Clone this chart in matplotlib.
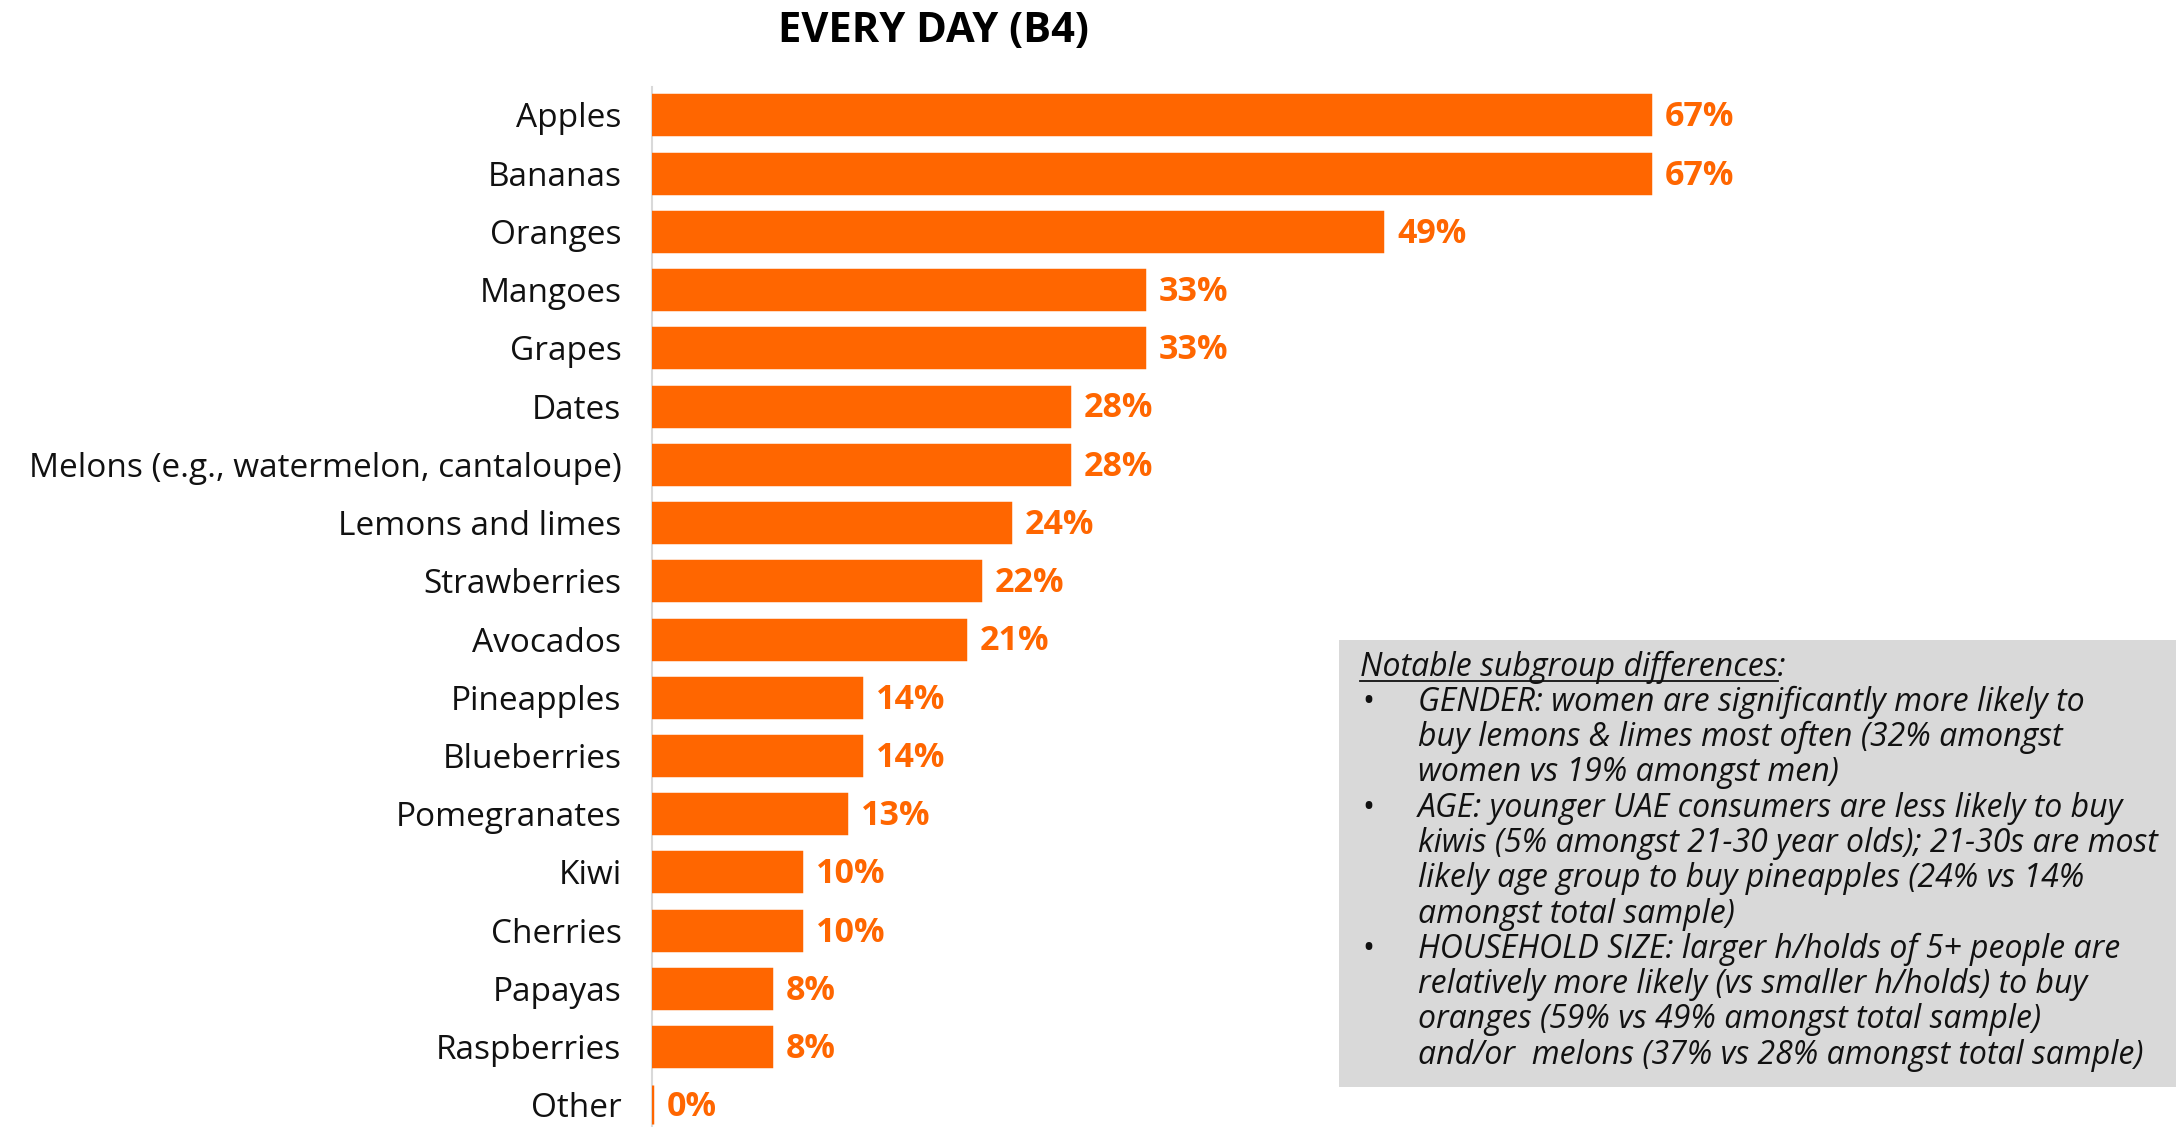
import matplotlib.pyplot as plt
from matplotlib.patches import Rectangle
from matplotlib.lines import Line2D

fruits = ['Apples', 'Bananas', 'Oranges', 'Mangoes', 'Grapes', 'Dates',
          'Melons (e.g., watermelon, cantaloupe)', 'Lemons and limes',
          'Strawberries', 'Avocados', 'Pineapples', 'Blueberries',
          'Pomegranates', 'Kiwi', 'Cherries', 'Papayas', 'Raspberries', 'Other']
shares = [67, 67, 49, 33, 33, 28, 28, 24, 22, 21, 14, 14, 13, 10, 10, 8, 8, 0]

note_title = 'Notable subgroup differences'
note_points = [
    ['GENDER: women are significantly more likely to',
     'buy lemons & limes most often (32% amongst',
     'women vs 19% amongst men)'],
    ['AGE: younger UAE consumers are less likely to buy',
     'kiwis (5% amongst 21-30 year olds); 21-30s are most',
     'likely age group to buy pineapples (24% vs 14%',
     'amongst total sample)'],
    ['HOUSEHOLD SIZE: larger h/holds of 5+ people are',
     'relatively more likely (vs smaller h/holds) to buy',
     'oranges (59% vs 49% amongst total sample)',
     'and/or  melons (37% vs 28% amongst total sample)'],
]

ORANGE = '#ff6600'
FONT = 'Open Sans'
W, H = 2176, 1127

plt.rcParams['font.family'] = FONT
fig = plt.figure(figsize=(W / 100, H / 100), dpi=100)


def fx(px):
    return px / W


def fy(py):
    return 1 - py / H


ax = fig.add_axes([fx(652), 0, fx(1490), (H - 87) / H])
y = list(range(len(fruits)))
ax.barh(y, shares, height=0.67, color=ORANGE, edgecolor=ORANGE,
        linewidth=2.5, zorder=3)
ax.set_xlim(0, 100)
ax.set_ylim(17.38, -0.48)
ax.set_yticks(y)
ax.set_yticklabels(fruits, fontsize=24, color='#111111')
ax.tick_params(axis='y', length=0, pad=22)
ax.set_xticks([])
for side in ['top', 'right', 'bottom']:
    ax.spines[side].set_visible(False)
ax.spines['left'].set_color('#d9d9d9')
ax.spines['left'].set_linewidth(1.5)

for i, v in enumerate(shares):
    ax.text(v + 1.0, i + 0.04, f'{v}%', va='center', ha='left', fontsize=24.5,
            fontweight='bold', color=ORANGE)

fig.text(fx(933), fy(32), 'EVERY DAY (B4)', ha='center', va='center',
         fontsize=30, fontweight='bold', color='black')

# notes panel
fig.patches.append(Rectangle((fx(1339), fy(1087)), fx(837), (1087 - 640) / H,
                             transform=fig.transFigure, facecolor='#d9d9d9',
                             edgecolor='none', zorder=0))
note_fs = 23
line_h = 35.3
ty = 667
head = fig.text(fx(1360), fy(ty), note_title, ha='left', va='center',
                fontsize=note_fs, style='italic', color='#111111')
fig.text(fx(1360), fy(ty), note_title + ':', ha='left', va='center',
         fontsize=note_fs, style='italic', color='#111111')
head.set_alpha(0)
fig.canvas.draw()
bb = head.get_window_extent()
fig.lines.append(Line2D([fx(bb.x0), fx(bb.x1)], [bb.y0 / H + 0.002] * 2,
                        transform=fig.transFigure, color='#111111', linewidth=1.3))

ty += line_h
for point in note_points:
    fig.text(fx(1362), fy(ty), '•', ha='left', va='center', fontsize=note_fs,
             color='#111111')
    for line in point:
        fig.text(fx(1418), fy(ty), line, ha='left', va='center', fontsize=note_fs,
                 style='italic', color='#111111')
        ty += line_h

fig.savefig('out.png', dpi=100)
